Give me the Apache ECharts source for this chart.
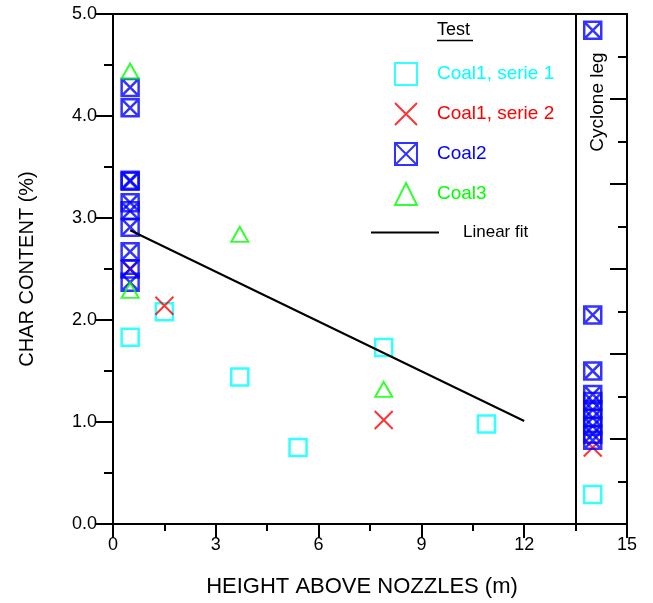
<!DOCTYPE html>
<html><head><meta charset="utf-8">
<script src="https://cdn.jsdelivr.net/npm/echarts@6/dist/echarts.min.js"></script>
<style>html,body{margin:0;padding:0;background:#fff}#c{width:653px;height:603px}</style>
</head><body><div id="c"></div>
<script>
// Data
const xTicks = [0, 3, 6, 9, 12, 15];
const coal1s1X = [0.5, 1.5, 3.7, 5.4, 7.9, 10.9, 14];
const coal1s1Y = [1.83, 2.08, 1.44, 0.75, 1.73, 0.98, 0.29];
const coal1s2X = [0.5, 1.5, 7.9, 14];
const coal1s2Y = [2.50, 2.14, 1.02, 0.75];
const coal2X = [0.5, 0.5, 0.5, 0.5, 0.5, 0.5, 0.5, 0.5, 0.5, 0.5, 14, 14, 14, 14, 14, 14, 14, 14, 14, 14];
const coal2Y = [4.28, 4.08, 3.37, 3.36, 3.15, 3.07, 2.91, 2.67, 2.50, 2.37, 4.84, 2.05, 1.50, 1.27, 1.20, 1.12, 1.04, 0.96, 0.88, 0.82];
const coal3X = [0.5, 0.5, 3.7, 7.9];
const coal3Y = [4.44, 2.29, 2.84, 1.32];
const fitX = [0.5, 12];
const fitY = [2.88, 1.01];
const cycloneX = 13.5;

const zip = (a, b) => a.map((v, i) => [v, b[i]]);
const FONT = 'Liberation Sans, Arial, sans-serif';
const boxX = 'path://M0,0H10V10H0ZM0,0L10,10M10,0L0,10';
const cross = 'path://M0,0L10,10M10,0L0,10';

const chart = echarts.init(document.getElementById('c'), null, {renderer: 'canvas'});
const option = {
  backgroundColor: '#fff',
  animation: false,
  grid: {left: 113, right: 26, top: 14, bottom: 74},
  xAxis: [{
    type: 'value', min: 0, max: 15, interval: 3,
    name: 'HEIGHT ABOVE NOZZLES (m)', nameLocation: 'middle', nameGap: 52,
    nameTextStyle: {fontFamily: FONT, fontSize: 22, color: '#000', padding: [0, 16, 0, 0]},
    axisLine: {show: true, onZero: false, lineStyle: {color: '#000', width: 2}},
    axisTick: {show: true, length: 14, lineStyle: {color: '#000', width: 2}},
    minorTick: {show: true, splitNumber: 2, length: 7, lineStyle: {color: '#000', width: 2}},
    axisLabel: {fontFamily: FONT, fontSize: 18, color: '#000', margin: 12},
    splitLine: {show: false}
  }, {
    type: 'value', min: 0, max: 15, position: 'top',
    axisLine: {show: true, onZero: false, lineStyle: {color: '#000', width: 2}},
    axisTick: {show: false}, axisLabel: {show: false}, splitLine: {show: false}
  }],
  yAxis: [{
    type: 'value', min: 0, max: 5, interval: 1,
    name: 'CHAR CONTENT (%)', nameLocation: 'middle', nameGap: 76,
    nameTextStyle: {fontFamily: FONT, fontSize: 20, color: '#000'},
    axisLine: {show: true, onZero: false, lineStyle: {color: '#000', width: 2}},
    axisTick: {show: true, length: 17, lineStyle: {color: '#000', width: 2}},
    minorTick: {show: true, splitNumber: 2, length: 9, lineStyle: {color: '#000', width: 2}},
    axisLabel: {fontFamily: FONT, fontSize: 18, color: '#000', margin: 16, formatter: v => v.toFixed(1)},
    splitLine: {show: false}
  }, {
    type: 'value', min: 0, max: 12, interval: 2, position: 'right',
    axisLine: {show: true, onZero: false, lineStyle: {color: '#000', width: 2}},
    axisTick: {show: true, inside: true, length: 17, lineStyle: {color: '#000', width: 2}},
    minorTick: {show: true, splitNumber: 2, length: 9, lineStyle: {color: '#000', width: 2}},
    axisLabel: {show: false}, splitLine: {show: false}
  }],
  legend: [{
    orient: 'vertical', left: 394, top: 62, padding: 0, itemWidth: 22, itemHeight: 22, itemGap: 16,
    textStyle: {fontFamily: FONT, fontSize: 19, padding: [0, 0, 0, 15]},
    data: [
      {name: 'Coal1, serie 1', textStyle: {color: '#00ffff'}},
      {name: 'Coal1, serie 2', textStyle: {color: '#ff0000'}},
      {name: 'Coal2', textStyle: {color: '#0000ff'}},
      {name: 'Coal3', textStyle: {color: '#00ff00'}}
    ]
  }, {
    orient: 'vertical', left: 371, top: 224, padding: 0, itemWidth: 68, itemHeight: 2, itemGap: 10,
    textStyle: {fontFamily: FONT, fontSize: 17, color: '#000', padding: [0, 0, 0, 19]},
    data: [{name: 'Linear fit', icon: 'rect', itemStyle: {color: '#000'}}]
  }],
  graphic: [
    {type: 'text', left: 437, top: 21, style: {text: 'Test', fontFamily: FONT, fontSize: 18, fill: '#000'}},
    {type: 'line', shape: {x1: 437, y1: 40.5, x2: 473, y2: 40.5}, style: {stroke: '#000', lineWidth: 1.5}},
    {type: 'text', x: 598, y: 102, rotation: Math.PI / 2, style: {text: 'Cyclone leg', fontFamily: FONT, fontSize: 19, fill: '#000', align: 'center', verticalAlign: 'middle'}}
  ],
  series: [
    {
      name: 'Linear fit', type: 'line', data: zip(fitX, fitY), symbol: 'none',
      lineStyle: {color: '#000', width: 2}, itemStyle: {color: '#000'},
      markLine: {silent: true, symbol: 'none', label: {show: false},
        lineStyle: {color: '#000', width: 2, type: 'solid'}, data: [{xAxis: cycloneX}]}
    },
    {
      name: 'Coal1, serie 1', type: 'scatter', data: zip(coal1s1X, coal1s1Y), symbol: 'rect', symbolSize: 17,
      itemStyle: {color: 'rgba(0,0,0,0)', borderColor: '#00ffff', borderWidth: 2.5}
    },
    {
      name: 'Coal1, serie 2', type: 'scatter', data: zip(coal1s2X, coal1s2Y), symbol: cross, symbolSize: 18,
      itemStyle: {color: 'rgba(0,0,0,0)', borderColor: '#ff0000', borderWidth: 2}
    },
    {
      name: 'Coal2', type: 'scatter', data: zip(coal2X, coal2Y), symbol: boxX, symbolSize: 17,
      itemStyle: {color: 'rgba(0,0,0,0)', borderColor: '#0000ff', borderWidth: 2.5}
    },
    {
      name: 'Coal3', type: 'scatter', data: zip(coal3X, coal3Y), symbol: 'triangle', symbolSize: [17, 15],
      itemStyle: {color: 'rgba(0,0,0,0)', borderColor: '#00ff00', borderWidth: 2}
    }
  ]
};
chart.setOption(option);
</script>
</body></html>
